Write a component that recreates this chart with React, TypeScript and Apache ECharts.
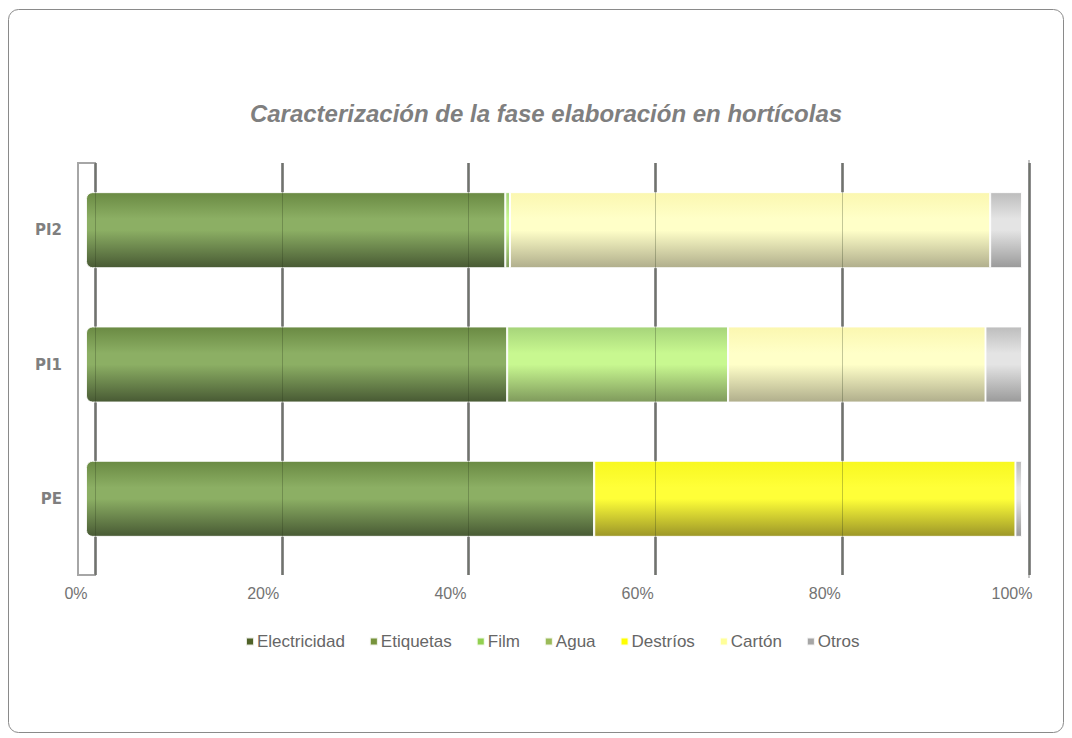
import React, { useEffect, useRef } from "react";
import * as echarts from "echarts";

const categories = ["PE", "PI1", "PI2"];
const electricidad = [54.3, 45.0, 44.8];
const etiquetas = [0, 0, 0];
const film = [0, 23.6, 0.5];
const agua = [0, 0, 0];
const destrios = [45.0, 0, 0];
const carton = [0, 27.5, 51.3];
const otros = [0.7, 3.9, 3.4];
const tickLabels = ["0%", "20%", "40%", "60%", "80%", "100%"];

const grad = (top: string, mid: string, bottom: string) => ({
  type: "linear",
  x: 0,
  y: 0,
  x2: 0,
  y2: 1,
  colorStops: [
    { offset: 0, color: top },
    { offset: 0.35, color: mid },
    { offset: 0.5, color: mid },
    { offset: 1, color: bottom },
  ],
});

export default function App() {
  const ref = useRef<HTMLDivElement>(null);
  useEffect(() => {
    if (!ref.current) return;
    const chart = echarts.init(ref.current, undefined, { renderer: "svg" });
    const seriesDefs = [
      { name: "Electricidad", data: electricidad, color: grad("#6a8a43", "#8caf64", "#485a34"), legend: "#4f6228" },
      { name: "Etiquetas", data: etiquetas, color: grad("#6f8c38", "#8fae55", "#4e6228"), legend: "#77933c" },
      { name: "Film", data: film, color: grad("#a6d47a", "#c8f890", "#7f9a5c"), legend: "#92d050" },
      { name: "Agua", data: agua, color: grad("#8fae55", "#aac86f", "#66803c"), legend: "#9bbb59" },
      { name: "Destríos", data: destrios, color: grad("#f8f820", "#ffff38", "#9c9628"), legend: "#ffff00" },
      { name: "Cartón", data: carton, color: grad("#fbf7b0", "#ffffc8", "#b0ae8c"), legend: "#ffff99" },
      { name: "Otros", data: otros, color: grad("#bdbdbd", "#e4e4e4", "#9a9a9a"), legend: "#a6a6a6" },
    ];
    const tickValues = [0, 20, 40, 60, 80, 100];
    chart.setOption({
      animation: false,
      title: {
        text: "Caracterización de la fase elaboración en hortícolas",
        left: 541,
        top: 96,
        textAlign: "center",
        textStyle: {
          fontFamily: "Liberation Sans",
          fontStyle: "italic",
          fontWeight: "bold",
          fontSize: 24,
          color: "#7f7f7f",
        },
      },
      legend: {
        left: 240,
        top: 628,
        itemWidth: 8,
        itemHeight: 8,
        itemGap: 24,
        icon: "rect",
        textStyle: { fontFamily: "Liberation Sans", fontSize: 17, color: "#666666", padding: [0, 0, 0, -2] },
        data: seriesDefs.map((s) => ({ name: s.name, itemStyle: { color: s.legend } })),
      },
      grid: [
        { left: 86, right: 50, top: 163, height: 403 },
        { left: 95, right: 43, top: 163, height: 412 },
        { left: 76, right: 60, top: 163, height: 403 },
      ],
      xAxis: [
        {
          gridIndex: 0,
          type: "value",
          min: 0,
          max: 100,
          interval: 20,
          show: false,
        },
        {
          gridIndex: 1,
          type: "value",
          min: 0,
          max: 100,
          interval: 20,
          axisLine: { show: false },
          axisTick: { show: false },
          axisLabel: { show: false },
          splitLine: { show: true, lineStyle: { color: "#8c8c8c", width: 3 } },
          z: 0,
        },
        {
          gridIndex: 1,
          type: "value",
          min: 0,
          max: 100,
          interval: 20,
          position: "top",
          axisLine: { show: false },
          axisTick: { show: false },
          axisLabel: { show: false },
          splitLine: { show: true, lineStyle: { color: "rgba(40,55,25,0.28)", width: 1 } },
          z: 10,
        },
        {
          gridIndex: 2,
          type: "value",
          min: 0,
          max: 100,
          interval: 20,
          axisLine: { show: false },
          axisTick: { show: false },
          splitLine: { show: false },
          axisLabel: {
            margin: 19,
            fontFamily: "Liberation Sans",
            fontSize: 16,
            color: "#737373",
            formatter: (v: number) => tickLabels[tickValues.indexOf(v)] ?? "",
          },
        },
      ],
      yAxis: [
        {
          gridIndex: 0,
          type: "category",
          data: categories,
          axisLine: { show: false },
          axisTick: { show: false },
          axisLabel: {
            margin: 24,
            fontFamily: "DejaVu Sans",
            fontWeight: "bold",
            fontSize: 15,
            color: "#7f7f7f",
          },
        },
        { gridIndex: 1, type: "value", show: false, min: 0, max: 1 },
        { gridIndex: 2, type: "value", show: false, min: 0, max: 1 },
      ],
      graphic: [
        {
          type: "rect",
          shape: { x: 8.5, y: 9.5, width: 1055, height: 723, r: 10 },
          style: { fill: "none", stroke: "#8a8a8a", lineWidth: 1 },
          silent: true,
          z: -10,
        },
        {
          type: "rect",
          shape: { x: 78, y: 163, width: 17, height: 412 },
          style: { fill: "none", stroke: "#a6a6a6", lineWidth: 2 },
          silent: true,
          z: -5,
        },
        {
          type: "line",
          shape: { x1: 1029, y1: 160, x2: 1029, y2: 578 },
          style: { stroke: "#c4c4c4", lineWidth: 2 },
          silent: true,
          z: -5,
        },
      ],
      series: seriesDefs.map((s, i) => ({
        name: s.name,
        type: "bar",
        stack: "total",
        xAxisIndex: 0,
        yAxisIndex: 0,
        barWidth: 76,
        data: s.data,
        itemStyle: {
          color: s.color,
          borderColor: "rgba(255,255,255,0.85)",
          borderWidth: 1,
          borderRadius: i === 0 ? [6, 0, 0, 6] : 0,
        },
        z: 3,
      })),
    });
    return () => chart.dispose();
  }, []);
  return (
    <div
      ref={ref}
      style={{ position: "fixed", left: 0, top: 0, width: 1072, height: 738, background: "#ffffff" }}
    />
  );
}
